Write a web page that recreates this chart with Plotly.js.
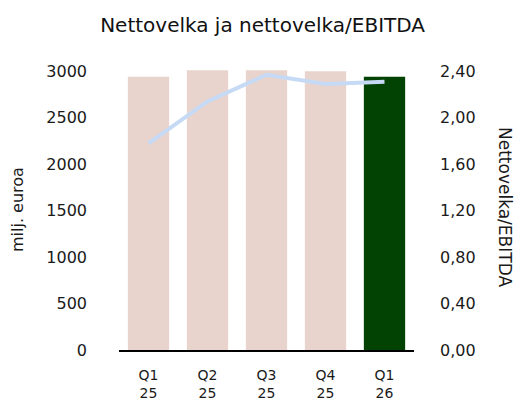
<!DOCTYPE html>
<html>
<head>
<meta charset="utf-8">
<script src="https://cdn.plot.ly/plotly-3.0.1.min.js"></script>
<style>html,body{margin:0;padding:0;background:#fff;}#chart{width:520px;height:402px;}</style>
</head>
<body>
<div id="chart"></div>
<script>
// Data
const categories = ['Q1<br>25', 'Q2<br>25', 'Q3<br>25', 'Q4<br>25', 'Q1<br>26'];
const netDebt = [2940, 3012, 3012, 3000, 2940];          // milj. euroa (left axis)
const netDebtToEbitda = [1.78, 2.14, 2.37, 2.29, 2.31];  // right axis
const barColors = ['#e8d4cd', '#e8d4cd', '#e8d4cd', '#e8d4cd', '#024202'];
const leftTickVals = [0, 500, 1000, 1500, 2000, 2500, 3000];
const leftTickText = ['0', '500', '1000', '1500', '2000', '2500', '3000'];
const rightTickVals = [0, 0.4, 0.8, 1.2, 1.6, 2.0, 2.4];
const rightTickText = ['0,00', '0,40', '0,80', '1,20', '1,60', '2,00', '2,40'];

const FONT = 'DejaVu Sans, Liberation Sans, sans-serif';
const TXT = '#1a1a1a';

const traces = [
  {
    type: 'bar',
    x: categories,
    y: netDebt,
    marker: {color: barColors, line: {width: 0}},
    yaxis: 'y',
    hoverinfo: 'skip',
    showlegend: false
  },
  {
    type: 'scatter',
    mode: 'lines',
    x: categories,
    y: netDebtToEbitda,
    yaxis: 'y2',
    line: {color: '#c6daf5', width: 4},
    hoverinfo: 'skip',
    showlegend: false
  }
];

const layout = {
  width: 520,
  height: 402,
  paper_bgcolor: '#ffffff',
  plot_bgcolor: '#ffffff',
  margin: {l: 119, r: 106, t: 62, b: 52, pad: 0},
  bargap: 0.3,
  showlegend: false,
  font: {family: FONT, color: TXT, size: 16},
  title: {
    text: 'Nettovelka ja nettovelka/EBITDA',
    font: {family: FONT, size: 20, color: '#111'},
    x: 0.505, xref: 'container', xanchor: 'center',
    y: 0.937, yref: 'container', yanchor: 'middle'
  },
  xaxis: {
    type: 'category',
    showline: true, linecolor: '#000', linewidth: 2,
    showgrid: false, zeroline: false,
    ticks: '', ticklabelstandoff: 11,
    tickfont: {family: FONT, size: 14, color: TXT}
  },
  yaxis: {
    range: [0, 3100],
    tickvals: leftTickVals, ticktext: leftTickText,
    showgrid: false, zeroline: false, showline: false,
    ticks: '', ticklabelstandoff: 31,
    tickfont: {family: FONT, size: 16, color: TXT}
  },
  yaxis2: {
    overlaying: 'y', side: 'right',
    range: [0, 2.48],
    tickvals: rightTickVals, ticktext: rightTickText,
    showgrid: false, zeroline: false, showline: false,
    ticks: '', ticklabelstandoff: 25,
    tickfont: {family: FONT, size: 16, color: TXT}
  },
  annotations: [
    {
      text: 'milj. euroa', xref: 'paper', yref: 'paper',
      x: 0, y: 0.5, xanchor: 'center', yanchor: 'middle',
      xshift: -102, yshift: -4, textangle: -90, showarrow: false,
      font: {family: FONT, size: 16, color: TXT}
    },
    {
      text: 'Nettovelka/EBITDA', xref: 'paper', yref: 'paper',
      x: 1, y: 0.5, xanchor: 'center', yanchor: 'middle',
      xshift: 91, yshift: -1, textangle: 90, showarrow: false,
      font: {family: FONT, size: 17, color: TXT}
    }
  ]
};

Plotly.newPlot('chart', traces, layout, {staticPlot: true, displayModeBar: false});
</script>
</body>
</html>
